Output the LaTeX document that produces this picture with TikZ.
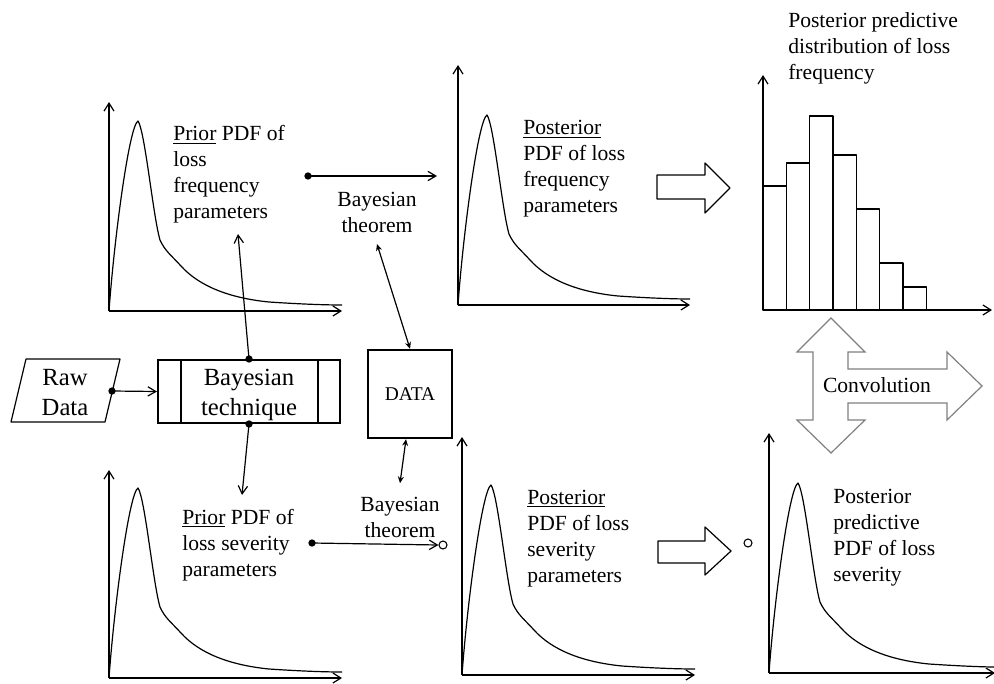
\documentclass[tikz,border=0pt]{standalone}
\usepackage{fontspec}
\setmainfont{Liberation Serif}
\usetikzlibrary{arrows.meta}
\newcommand{\leftlines}[1]{\begin{tabular}[t]{@{}l@{}}#1\end{tabular}}
\newcommand{\centerlines}[1]{\begin{tabular}[t]{@{}c@{}}#1\end{tabular}}
\begin{document}
\begin{tikzpicture}[x=0.75pt,y=-0.75pt,
  ln/.style={line width=0.9pt, line join=round},
  axisbarb/.style={-{Straight Barb[length=6pt,width=7.5pt]}},
  conn/.style={ln, -{Straight Barb[length=6pt,width=7pt]}},
  dblconn/.style={ln, {Stealth[length=5pt,width=4.5pt]}-{Stealth[length=5pt,width=4.5pt]}},
  dot/.style={circle, fill, inner sep=0pt, minimum size=5.5pt},
  ring/.style={circle, draw, line width=0.8pt, inner sep=0pt, minimum size=6pt},
  body/.style={font=\fontsize{16.2pt}{19.5pt}\selectfont, inner sep=0pt},
  big/.style={font=\fontsize{18.5pt}{22.5pt}\selectfont, inner sep=0pt},
  heavybox/.style={draw, line width=1.5pt, inner sep=0pt},
  convarrow/.style={draw=black!50, line width=0.9pt, line join=miter},
  pics/pdfplot/.style 2 args={code={
    \draw[ln, axisbarb] (0,0) -- (0,-#1);
    \draw[ln, axisbarb] (0,0) -- (#2,0);
    \draw[ln] (0,0) .. controls (5,-70) and (20,-185) .. (29,-190)
      .. controls (36,-180) and (44,-95) .. (51,-71)
      .. controls (56,-60) and (62,-56) .. (72,-45)
      .. controls (90,-25) and (120,-13) .. (160,-9)
      .. controls (190,-7) and (215,-6) .. (#2,-6);
  }}
]
\useasboundingbox (0,0) rectangle (994,684);

% density plots
\pic at (109,311) {pdfplot={209}{233}};
\pic at (458,305) {pdfplot={240}{232}};
\pic at (109,678) {pdfplot={208}{233}};
\pic at (462,675) {pdfplot={238}{233}};
\pic at (769,673) {pdfplot={240}{226}};

% histogram of the predictive frequency
\draw[ln, axisbarb] (763,310) -- (763,75);
\draw[ln, axisbarb] (763,310) -- (992,310);
\foreach \i/\h in {0/186,1/163,2/116,3/155,4/209,5/263,6/287}
  \draw[ln] ({763+23.33*\i},310) rectangle ({763+23.33*(\i+1)},\h);

% text blocks
\node[body, anchor=base west] (priorF) at (173,141)
  {\leftlines{\underline{Prior} PDF of\\loss\\frequency\\parameters}};
\node[body, anchor=base] (thTop) at (377,206) {\centerlines{Bayesian\\theorem}};
\node[body, anchor=base west] (postF) at (523,135)
  {\leftlines{\underline{Posterior}\\PDF of loss\\frequency\\parameters}};
\node[body, anchor=base west] (ppF) at (788,28)
  {\leftlines{Posterior predictive\\distribution of loss\\frequency}};
\node[body, anchor=base west] (priorS) at (182,524)
  {\leftlines{\underline{Prior} PDF of\\loss severity\\parameters}};
\node[body, anchor=base] (thBot) at (400,511) {\centerlines{Bayesian\\theorem}};
\node[body, anchor=base west] (postS) at (527,504)
  {\leftlines{\underline{Posterior}\\PDF of loss\\severity\\parameters}};
\node[body, anchor=base west] (ppS) at (833,503)
  {\leftlines{Posterior\\predictive\\PDF of loss\\severity}};

% raw data input
\draw[ln] (26,359) -- (120,359) -- (105,422) -- (11,422) -- cycle;
\node[big, anchor=base] (rawtxt) at (65,385) {\centerlines{Raw\\Data}};

% Bayesian technique process box
\node[heavybox, minimum width=136.5pt, minimum height=47.25pt] (bt) at (249,391.5) {};
\draw[line width=1.5pt] ([xshift=18pt]bt.north west) -- ([xshift=18pt]bt.south west);
\draw[line width=1.5pt] ([xshift=-17.25pt]bt.north east) -- ([xshift=-17.25pt]bt.south east);
\node[big, anchor=base] (bttxt) at (249,385) {\centerlines{Bayesian\\technique}};

% data store
\node[heavybox, line width=1.8pt, font=\fontsize{14.6pt}{17pt}\selectfont,
  minimum width=63pt, minimum height=66pt] (data) at (410,394) {DATA};

% connectors
\node[dot] (dRaw) at (112,391) {};
\draw[conn] (dRaw.center) -- (bt.west);
\node[dot] (dBtN) at (bt.north) {};
\node[dot] (dBtS) at (bt.south) {};
\coordinate (pfTip) at (238,234);
\coordinate (psTip) at (242,495);
\draw[conn] (dBtN.center) -- (pfTip);
\draw[conn] (dBtS.center) -- (psTip);

\node[dot] (dTop) at (308,176) {};
\coordinate (topEnd) at (437,176);
\draw[conn] (dTop.center) -- (topEnd);

\node[dot] (dBot) at (312,543) {};
\node[ring] (r1) at (443,545) {};
\draw[conn] (dBot.center) -- (r1.west);
\node[ring] (r2) at (748,543) {};

\draw[dblconn] ([yshift=-3pt]thTop.south) -- (data.north);
\draw[dblconn] ([xshift=-3pt]data.south) -- ([yshift=7pt]thBot.north);

% block arrows
\draw[ln] (657,175) -- (705,175) -- (705,163) -- (730,188) -- (705,213)
  -- (705,199) -- (657,199) -- cycle;
\draw[ln] (658,541) -- (705,541) -- (705,527) -- (731,551) -- (705,575)
  -- (705,563) -- (658,563) -- cycle;

% convolution arrow
\draw[convarrow] (831,318) -- (865,352) -- (848,352) -- (848,369) -- (947,369)
  -- (947,352) -- (982,386) -- (947,420) -- (947,403) -- (848,403) -- (848,420)
  -- (865,420) -- (831,453) -- (797,420) -- (813,420) -- (813,352) -- (797,352) -- cycle;
\node[body] (conv) at (877,385) {Convolution};
\end{tikzpicture}
\end{document}
